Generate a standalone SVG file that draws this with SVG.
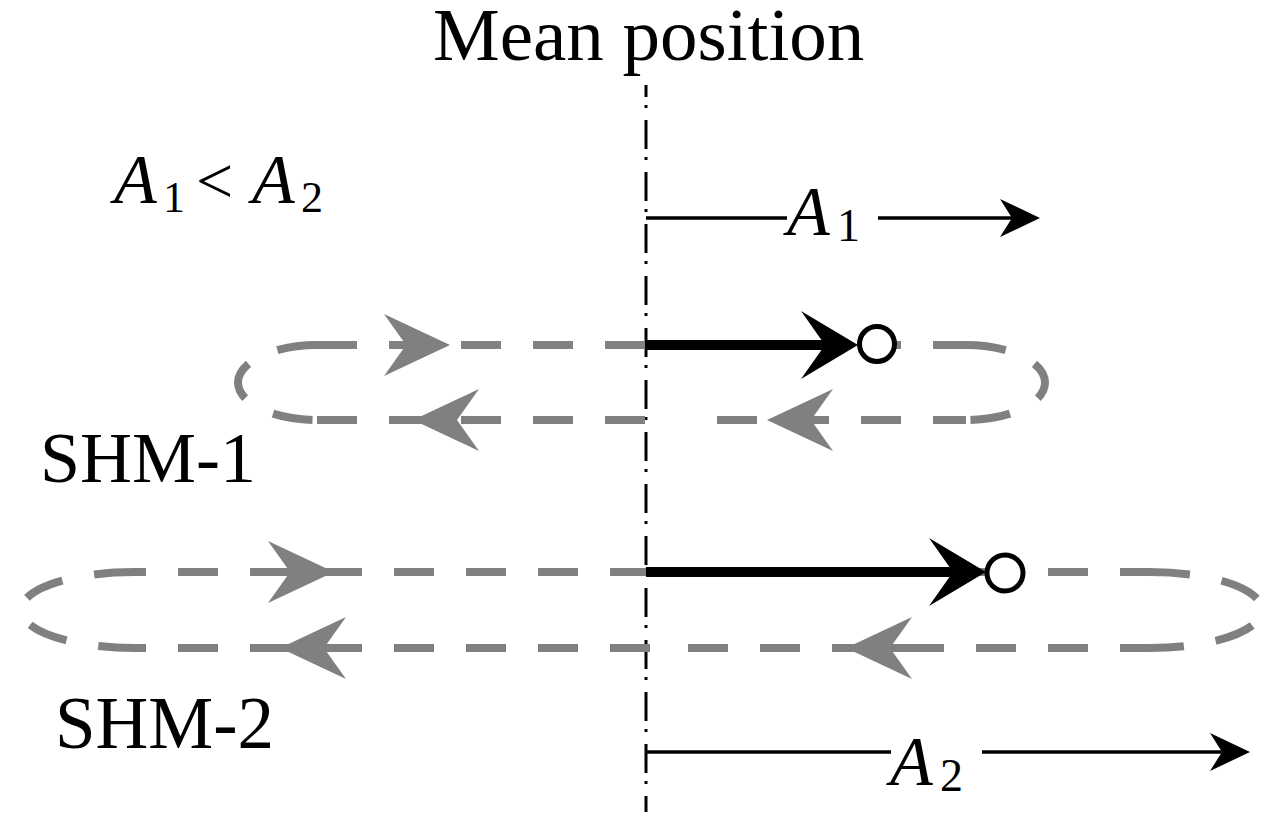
<svg xmlns="http://www.w3.org/2000/svg" width="1272" height="820" viewBox="0 0 1272 820">
<style>
.loop{fill:none;stroke:#808080;stroke-width:8;stroke-dasharray:40 32}
.garr{fill:#808080}
.shaft{stroke:#808080;stroke-width:8}
.bline{stroke:#000;stroke-width:10}
.dim{stroke:#000;stroke-width:3.5;fill:none}
.axis{stroke:#000;stroke-width:3;stroke-dasharray:29 8 3 12;fill:none}
.mass{fill:#fff;stroke:#000;stroke-width:5}
</style>
<defs>
<path id="gR" d="M0 0 L-66 -31 L-44 0 L-66 31 Z"/>
<path id="bR" d="M0 0 L-57 -34 L-33 0 L-57 34 Z"/>
<path id="sR" d="M0 0 L-40 -19 L-28 0 L-40 19 Z"/>
</defs>
<rect width="1272" height="820" fill="#fff"/>

<g id="title"><text font-family="'Liberation Serif', 'Times New Roman', Times, serif" fill="#000" x="433" y="60" font-size="75">Mean position</text></g>

<g id="relation">
<text font-family="'Liberation Serif', 'Times New Roman', Times, serif" fill="#000" font-size="70"><tspan font-style="italic" x="114" y="203">A</tspan><tspan x="163" y="212" font-size="44">1</tspan><tspan x="196" y="203" font-size="66">&lt;</tspan><tspan font-style="italic" x="252" y="203">A</tspan><tspan x="301" y="212" font-size="44">2</tspan></text>
</g>

<g id="mean-axis"><path class="axis" d="M646 85 V812" stroke-dashoffset="17"/></g>

<g id="shm1-loop">
<path class="loop" d="M645 345 H317 M645 420 H317 M317 345 A79 37.5 0 0 0 317 420 M717 345 H966 M717 420 H966 M966 345 A79 37.5 0 0 1 966 420"/>
</g>
<g id="shm2-loop">
<path class="loop" d="M650 572 H134 M650 648 H134 M134 572 A113 38 0 0 0 134 648 M688 572 H1150 M688 648 H1150 M1150 572 A112 38 0 0 1 1150 648"/>
</g>

<g id="connectors">
<line class="shaft" x1="272" y1="572" x2="325" y2="572"/>
<line class="shaft" x1="288" y1="648" x2="340" y2="648"/>
<line class="shaft" x1="852" y1="648" x2="905" y2="648"/>
<use href="#gR" class="garr" transform="translate(450,345)"/>
<use href="#gR" class="garr" transform="translate(413,420) rotate(180)"/>
<use href="#gR" class="garr" transform="translate(767,420) rotate(180)"/>
<use href="#gR" class="garr" transform="translate(334,572)"/>
<use href="#gR" class="garr" transform="translate(280,648) rotate(180)"/>
<use href="#gR" class="garr" transform="translate(846,648) rotate(180)"/>
<line class="bline" x1="646" y1="345" x2="830" y2="345"/>
<use href="#bR" transform="translate(858,345)"/>
<line class="bline" x1="646" y1="572" x2="955" y2="572"/>
<use href="#bR" transform="translate(986,572)"/>
<path class="dim" d="M646 218 H787 M878 218 H1015"/>
<use href="#sR" transform="translate(1040,218)"/>
<path class="dim" d="M646 752 H891 M982 752 H1225"/>
<use href="#sR" transform="translate(1250,752)"/>
</g>

<g id="mass1"><circle class="mass" cx="877" cy="344" r="17.5"/></g>
<g id="mass2"><circle class="mass" cx="1005" cy="573" r="18"/></g>

<g id="label-a1"><text font-family="'Liberation Serif', 'Times New Roman', Times, serif" fill="#000" font-size="70"><tspan font-style="italic" x="787" y="235">A</tspan><tspan x="837" y="241" font-size="46">1</tspan></text></g>
<g id="label-a2"><text font-family="'Liberation Serif', 'Times New Roman', Times, serif" fill="#000" font-size="70"><tspan font-style="italic" x="890" y="785">A</tspan><tspan x="940" y="791" font-size="46">2</tspan></text></g>
<g id="label-shm1"><text font-family="'Liberation Serif', 'Times New Roman', Times, serif" fill="#000" x="40" y="482" font-size="72">SHM-1</text></g>
<g id="label-shm2"><text font-family="'Liberation Serif', 'Times New Roman', Times, serif" fill="#000" x="55" y="748" font-size="73">SHM-2</text></g>
</svg>
